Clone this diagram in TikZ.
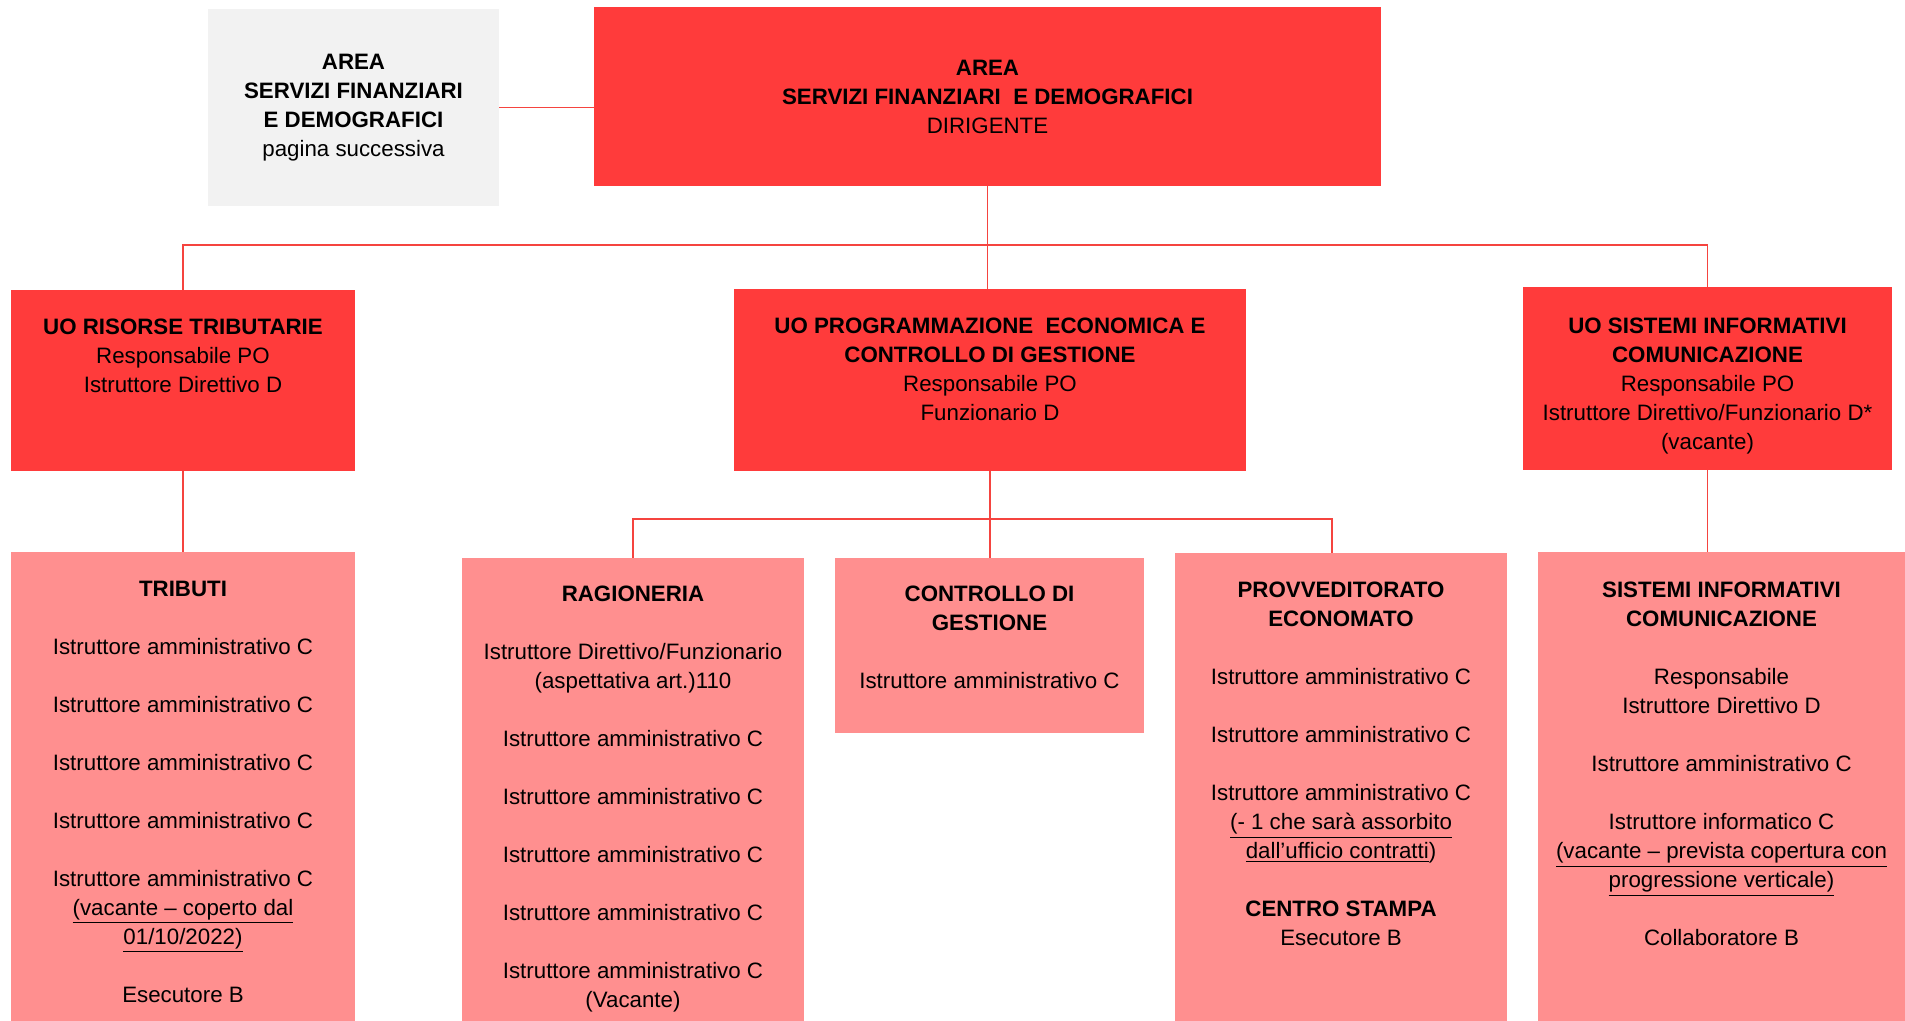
\documentclass[tikz,border=0pt]{standalone}
\usepackage{fontspec}
\setmainfont{Liberation Sans}
\usepackage{xcolor}
\usepackage{tikz}
\usetikzlibrary{positioning}
\definecolor{head}{HTML}{FF3B3B}
\definecolor{unit}{HTML}{FF8F8F}
\definecolor{note}{HTML}{F2F2F2}
\definecolor{link}{HTML}{F5443F}
\tikzset{
  hibox/.style={fill=head, inner sep=0pt},
  lobox/.style={fill=unit, inner sep=0pt},
  greybox/.style={fill=note, inner sep=0pt},
  txt/.style={align=center, inner sep=0pt, font=\fontsize{11.15}{14.5}\selectfont},
  wire/.style={draw=link, line width=0.75pt}
}

\begin{document}
\begin{tikzpicture}[x=0.5pt, y=-0.5pt]
\useasboundingbox (0,0) rectangle (1905,1021);
% top
\node[greybox, txt, minimum width=145.5pt, minimum height=98.5pt] (next) at (353.5,107.5)
  {\textbf{AREA}\\ \textbf{SERVIZI FINANZIARI}\\ \textbf{E DEMOGRAFICI}\\ pagina successiva};
\node[hibox, txt, minimum width=393.5pt, minimum height=89.5pt] (area) at (987.5,96.5)
  {\textbf{AREA}\\ \textbf{SERVIZI FINANZIARI\ \ E DEMOGRAFICI}\\ DIRIGENTE};
% units
\node[hibox, minimum width=172pt, minimum height=90.5pt] (risorse) at (183,380.5) {};
\node[hibox, minimum width=256pt, minimum height=91pt] (prog) at (990,380) {};
\node[hibox, minimum width=184.5pt, minimum height=91.5pt] (infouo) at (1707.5,378.5) {};
\node[txt, below=14.5pt of risorse.north]
  {\textbf{UO RISORSE TRIBUTARIE}\\ Responsabile PO\\ Istruttore Direttivo D};
\node[txt, below=14.5pt of prog.north]
  {\textbf{UO PROGRAMMAZIONE\ \ ECONOMICA E}\\ \textbf{CONTROLLO DI GESTIONE}\\ Responsabile PO\\ Funzionario D};
\node[txt, below=15.5pt of infouo.north]
  {\textbf{UO SISTEMI INFORMATIVI}\\ \textbf{COMUNICAZIONE}\\ Responsabile PO\\ Istruttore Direttivo/Funzionario D*\\ (vacante)};
% offices
\node[lobox, minimum width=172pt, minimum height=236.5pt] (tributi) at (183,788.5) {};
\node[lobox, minimum width=171pt, minimum height=233.5pt] (ragioneria) at (633,791.5) {};
\node[lobox, minimum width=154.5pt, minimum height=87.5pt] (controllo) at (989.5,645.5) {};
\node[lobox, minimum width=166pt, minimum height=236pt] (provv) at (1341,789) {};
\node[lobox, minimum width=183.5pt, minimum height=236.5pt] (infosi) at (1721.5,788.5) {};
\node[txt, below=14.5pt of tributi.north]
  {\textbf{TRIBUTI}\\[14.5pt]
   Istruttore amministrativo C\\[14.5pt]
   Istruttore amministrativo C\\[14.5pt]
   Istruttore amministrativo C\\[14.5pt]
   Istruttore amministrativo C\\[14.5pt]
   Istruttore amministrativo C\\
   \underline{(vacante – coperto dal}\\
   \underline{01/10/2022)}\\[14.5pt]
   Esecutore B};
\node[txt, below=14pt of ragioneria.north]
  {\textbf{RAGIONERIA}\\[14.5pt]
   Istruttore Direttivo/Funzionario\\
   (aspettativa art.)110\\[14.5pt]
   Istruttore amministrativo C\\[14.5pt]
   Istruttore amministrativo C\\[14.5pt]
   Istruttore amministrativo C\\[14.5pt]
   Istruttore amministrativo C\\[14.5pt]
   Istruttore amministrativo C\\
   (Vacante)};
\node[txt, below=14pt of controllo.north]
  {\textbf{CONTROLLO DI}\\ \textbf{GESTIONE}\\[14.5pt]
   Istruttore amministrativo C};
\node[txt, below=14.5pt of provv.north]
  {\textbf{PROVVEDITORATO}\\ \textbf{ECONOMATO}\\[14.5pt]
   Istruttore amministrativo C\\[14.5pt]
   Istruttore amministrativo C\\[14.5pt]
   Istruttore amministrativo C\\
   \underline{(- 1 che sarà assorbito}\\
   \underline{dall’ufficio contratti})\\[14.5pt]
   \textbf{CENTRO STAMPA}\\
   Esecutore B};
\node[txt, below=15pt of infosi.north]
  {\textbf{SISTEMI INFORMATIVI}\\ \textbf{COMUNICAZIONE}\\[14.5pt]
   Responsabile\\ Istruttore Direttivo D\\[14.5pt]
   Istruttore amministrativo C\\[14.5pt]
   Istruttore informatico C\\
   \underline{(vacante – prevista copertura con}\\
   \underline{progressione verticale)}\\[14.5pt]
   Collaboratore B};
% lines
\coordinate (bus) at (0,245);
\coordinate (subbus) at (0,519);
\draw[wire] (next.east) -- (next.east -| area.west);
\draw[wire] (area.south) -- (area.south |- prog.north);
\draw[wire] (risorse.north) -- (risorse.north |- bus) -- (infouo.north |- bus) -- (infouo.north);
\draw[wire] (risorse.south) -- (tributi.north);
\draw[wire] (prog.south) -- (prog.south |- controllo.north);
\draw[wire] (ragioneria.north) -- (ragioneria.north |- subbus) -- ([xshift=-4.5pt]provv.north |- subbus) -- ([xshift=-4.5pt]provv.north);
\draw[wire] (infouo.south) -- (infouo.south |- infosi.north);
\end{tikzpicture}
\end{document}
